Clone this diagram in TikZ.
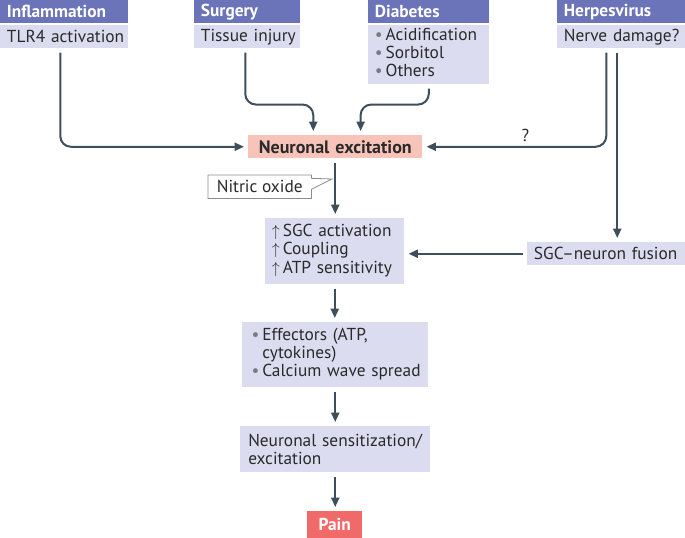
\documentclass[tikz,border=0pt]{standalone}
\usepackage{fontspec}
\setmainfont{PT Sans}
\usetikzlibrary{arrows.meta}

\definecolor{headblue}{HTML}{6B74B8}
\definecolor{lightlav}{HTML}{DCDCF0}
\definecolor{salmon}{HTML}{F8C4BA}
\definecolor{painred}{HTML}{F06A6A}
\definecolor{arrowgrey}{HTML}{3D4F5B}
\definecolor{textgrey}{HTML}{2A2A2A}
\definecolor{bulletgrey}{HTML}{7A7A82}
\newcommand{\bul}{\textcolor{bulletgrey}{\textbullet}}
\newcommand{\fsz}{\fontsize{13}{13.75}\selectfont}

\begin{document}
\begin{tikzpicture}[x=0.75pt,y=-0.75pt]
	\tikzstyle{box}=[anchor=north west,inner xsep=5pt,inner ysep=0pt,align=left,text=textgrey,font=\fsz]
	\tikzstyle{head}=[box,fill=headblue,text=white,font=\fsz\bfseries,minimum height=17.25pt]
	\tikzstyle{body}=[box,fill=lightlav,minimum height=17.25pt]
	\tikzstyle{arr}=[draw=arrowgrey,line width=1.5pt,-{Triangle[length=7pt,width=6pt]},rounded corners=8pt,shorten <=3pt,shorten >=3pt]
	\useasboundingbox (0,0) rectangle (685,538);
	% causes
	\node[head,text width=86pt] (infl) at (0,0) {Inflammation};
	\node[body,text width=86pt] (tlr) at (0,25) {\mbox{TLR4 activation}};
	\node[head,text width=69.5pt] (surg) at (194,0) {Surgery};
	\node[body,text width=69.5pt] (tissue) at (194,25) {\mbox{Tissue injury}};
	\node[head,text width=80.75pt] (diab) at (368,0) {Diabetes};
	\node[body,text width=80.75pt,minimum height=44.25pt] (diabbody) at (368,25)
		{\begin{tabular}{@{}l@{}}\bul\,Acidification\\ \bul\,Sorbitol\\ \bul\,Others\end{tabular}};
	\node[head,text width=86pt] (herp) at (557,0) {Herpesvirus};
	\node[body,text width=86pt] (nerve) at (557,25) {\mbox{Nerve damage?}};
	% main chain
	\node[box,fill=salmon,text width=120.5pt,align=center,minimum height=17.25pt,font=\fontsize{13.5}{14}\selectfont\bfseries] (exc) at (248,135) {Neuronal excitation};
	\node[box,minimum width=77.25pt,minimum height=17.25pt] (nitric) at (208,175) {Nitric oxide};
	\node[body,text width=94.25pt,minimum height=49.5pt] (sgc) at (265,218)
		{\begin{tabular}{@{}l@{\,}l@{}}$\uparrow$ & SGC activation\\ $\uparrow$ & Coupling\\ $\uparrow$ & ATP sensitivity\end{tabular}};
	\node[body,text width=108.5pt] (fusion) at (527,242) {\mbox{SGC--neuron fusion}};
	\node[body,inner xsep=7pt,text width=125.5pt,minimum height=48.75pt] (eff) at (242,322)
		{\begin{tabular}{@{}l@{\,}l@{}}\bul & Effectors (ATP,\\ & cytokines)\\ \bul & Calcium wave spread\end{tabular}};
	\node[body,inner xsep=6pt,text width=130.5pt,minimum height=34.5pt] (sens) at (240,426) {\mbox{Neuronal sensitization/}\\excitation};
	\node[box,fill=painred,text=white,text width=31.25pt,align=center,minimum height=20.25pt,font=\fsz\bfseries] (pain) at (307,511) {Pain};
	% callout round nitric oxide
	\draw[black!45,line width=0.6pt] (nitric.north west) -- (nitric.north east) -- ([yshift=-2.5pt]nitric.north east)
		-- (332,179) -- ([yshift=7pt]nitric.south east) -- (nitric.south east) -- (nitric.south west) -- cycle;
	% connectors
	\draw[arr] ([xshift=-3pt]tlr.south) |- (exc.west);
	\draw[arr] ([xshift=-1.5pt]tissue.south) -- ++(0,56) -| ([xshift=-16.5pt]exc.north);
	\draw[arr] (diabbody.south) -- ++(0,20) -| ([xshift=19pt]exc.north);
	\draw[arr] ([xshift=-11.25pt]nerve.south) |- (exc.east) node[pos=0.72,above,text=textgrey,font=\fsz] (q) {?};
	\draw[arr] ([xshift=-3pt]nerve.south) -- ([xshift=-3pt]nerve.south |- fusion.north);
	\draw[arr] (fusion.west) -- (sgc.east |- fusion.west);
	\draw[arr] (exc.south) -- (exc.south |- sgc.north);
	\draw[arr] (sgc.south) -- (sgc.south |- eff.north);
	\draw[arr] (eff.south) -- (eff.south |- sens.north);
	\draw[arr] (sens.south) -- (sens.south |- pain.north);
\end{tikzpicture}
\end{document}
